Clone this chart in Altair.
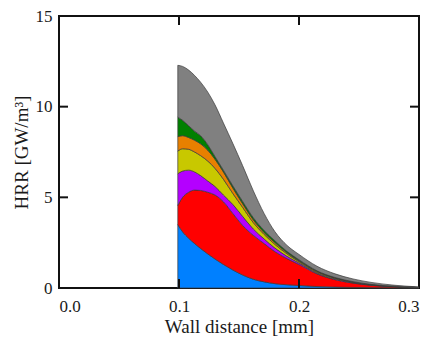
import altair as alt
import pandas as pd

# Wall distance grid [mm]
x_mm = [0.099, 0.103, 0.108, 0.113, 0.118, 0.124, 0.130, 0.137, 0.145, 0.153,
        0.162, 0.171, 0.180, 0.190, 0.200, 0.215, 0.230, 0.245, 0.260, 0.280, 0.300]

# cumulative (stacked) upper boundaries of each band [GW/m^3]
top_blue = [3.50, 3.10, 2.75, 2.45, 2.18, 1.88, 1.60, 1.30, 0.99, 0.72,
            0.48, 0.34, 0.24, 0.18, 0.14, 0.08, 0.05, 0.03, 0.02, 0.01, 0.00]
top_red = [4.55, 5.00, 5.28, 5.40, 5.38, 5.28, 5.13, 4.76, 4.10, 3.45,
           2.90, 2.45, 2.00, 1.62, 1.30, 0.78, 0.46, 0.27, 0.15, 0.065, 0.02]
top_purple = [6.30, 6.45, 6.50, 6.40, 6.20, 5.90, 5.60, 5.13, 4.60, 3.95,
              3.25, 2.70, 2.20, 1.75, 1.38, 0.83, 0.50, 0.30, 0.17, 0.075, 0.022]
top_yellow = [7.55, 7.68, 7.65, 7.50, 7.30, 7.00, 6.60, 6.00, 5.20, 4.45,
              3.60, 2.95, 2.40, 1.88, 1.45, 0.88, 0.54, 0.32, 0.18, 0.08, 0.025]
top_orange = [8.35, 8.40, 8.30, 8.15, 7.95, 7.60, 7.10, 6.40, 5.50, 4.65,
              3.75, 3.05, 2.50, 1.95, 1.50, 0.92, 0.56, 0.34, 0.19, 0.085, 0.028]
top_green = [9.42, 9.25, 8.95, 8.65, 8.40, 7.90, 7.25, 6.50, 5.62, 4.78,
             3.87, 3.17, 2.60, 2.02, 1.56, 0.95, 0.58, 0.35, 0.20, 0.09, 0.03]
top_gray = [12.28, 12.22, 12.02, 11.72, 11.35, 10.80, 10.10, 9.10, 7.95, 6.75,
            5.35, 4.10, 3.10, 2.35, 1.85, 1.20, 0.78, 0.50, 0.31, 0.15, 0.06]

band_names = ["blue", "red", "purple", "yellow", "orange", "green", "gray"]
band_colors = ["#0080FF", "#FF0000", "#B400FF", "#C8C800", "#E88000", "#008000", "#808080"]
band_tops = [top_blue, top_red, top_purple, top_yellow, top_orange, top_green, top_gray]

x_ticks = [0.1, 0.2]
y_ticks = [5, 10]
x_labels = [0.0, 0.1, 0.2, 0.3]
y_labels = [0, 5, 10, 15]

rows = []
prev = [0.0] * len(x_mm)
for k, (name, tops) in enumerate(zip(band_names, band_tops)):
    for i, xv in enumerate(x_mm):
        rows.append({"x": xv, "lo": prev[i], "hi": tops[i], "band": name, "k": k})
    prev = tops
df = pd.DataFrame(rows)

W, H = 360, 272
TL = 9
FONT = "Times New Roman"

xscale = alt.Scale(domain=[0, 0.3], nice=False, zero=False)
yscale = alt.Scale(domain=[0, 15], nice=False)

areas = alt.Chart(df).mark_area(
    interpolate="monotone", stroke="#3a3a3a", strokeWidth=0.7, opacity=1
).encode(
    x=alt.X("x:Q", scale=xscale,
            axis=alt.Axis(values=x_labels, format=".1f", title="Wall distance [mm]")),
    y=alt.Y("hi:Q", scale=yscale,
            axis=alt.Axis(values=y_labels, format="d", title="HRR [GW/m³]")),
    y2="lo:Q",
    color=alt.Color("band:N", scale=alt.Scale(domain=band_names, range=band_colors), legend=None),
    order=alt.Order("k:Q"),
)

xt = pd.DataFrame({"x": x_ticks})
yt = pd.DataFrame({"y": y_ticks})
tick_style = dict(color="#111111", strokeWidth=2)

bottom_ticks = alt.Chart(xt).mark_rule(**tick_style).encode(
    x=alt.X("x:Q", scale=xscale), y=alt.value(H), y2=alt.value(H - TL))
top_ticks = alt.Chart(xt).mark_rule(**tick_style).encode(
    x=alt.X("x:Q", scale=xscale), y=alt.value(0), y2=alt.value(TL))
left_ticks = alt.Chart(yt).mark_rule(**tick_style).encode(
    y=alt.Y("y:Q", scale=yscale), x=alt.value(0), x2=alt.value(TL))
right_ticks = alt.Chart(yt).mark_rule(**tick_style).encode(
    y=alt.Y("y:Q", scale=yscale), x=alt.value(W), x2=alt.value(W - TL))

chart = alt.layer(areas, bottom_ticks, top_ticks, left_ticks, right_ticks).properties(
    width=W, height=H,
    autosize=alt.AutoSizeParams(type="none"),
    padding={"left": 51, "top": 8, "right": 2, "bottom": 52},
).configure_view(
    stroke="#111111", strokeWidth=2
).configure_axis(
    domain=False, ticks=False, grid=False,
    labelFont=FONT, labelFontSize=17, labelColor="#1a1a1a",
    titleFont=FONT, titleFontSize=19, titleFontWeight="normal", titleColor="#1a1a1a",
).configure_axisX(
    labelPadding=10, titlePadding=3,
).configure_axisY(
    labelPadding=7, titlePadding=4,
)

chart.save("out.html", embed_options={"renderer": "svg", "actions": False})
